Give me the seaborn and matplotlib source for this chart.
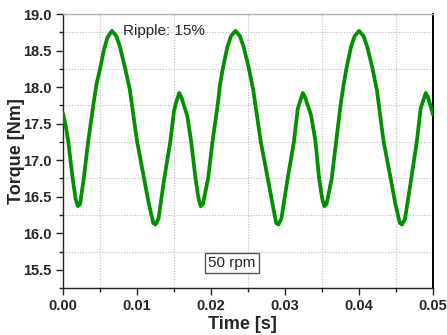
import matplotlib
matplotlib.use("Agg")
import matplotlib.pyplot as plt
from matplotlib.ticker import MultipleLocator, FormatStrFormatter
import seaborn as sns
import pandas as pd

# ---- data ----
time_s = [
    0.0000, 0.0004, 0.0007, 0.0013, 0.0017, 0.0020, 0.0023, 0.0028, 0.0034, 0.0041,
    0.0045, 0.0050, 0.0055, 0.0060, 0.0066, 0.0072, 0.0077, 0.0084, 0.0090, 0.0100,
    0.0110, 0.0116, 0.0122, 0.0125, 0.0129, 0.0136, 0.0145, 0.0150, 0.0153, 0.0157,
    0.0160, 0.0163, 0.0168, 0.0173, 0.0179, 0.0183, 0.0186, 0.0189, 0.0196, 0.0202,
    0.0209, 0.0212, 0.0216, 0.0222, 0.0227, 0.0233, 0.0239, 0.0244, 0.0251, 0.0257,
    0.0267, 0.0277, 0.0283, 0.0288, 0.0291, 0.0295, 0.0303, 0.0312, 0.0317, 0.0320,
    0.0324, 0.0327, 0.0330, 0.0335, 0.0341, 0.0346, 0.0350, 0.0353, 0.0356, 0.0363,
    0.0369, 0.0375, 0.0379, 0.0383, 0.0389, 0.0394, 0.0400, 0.0406, 0.0411, 0.0418,
    0.0424, 0.0433, 0.0443, 0.0449, 0.0455, 0.0458, 0.0462, 0.0470, 0.0478, 0.0483,
    0.0486, 0.0490, 0.0493, 0.0496, 0.0500,
]
torque_nm = [
    17.64, 17.45, 17.26, 16.75, 16.47, 16.37, 16.40, 16.75, 17.26, 17.76,
    18.03, 18.25, 18.50, 18.68, 18.77, 18.70, 18.55, 18.25, 17.98, 17.26,
    16.72, 16.40, 16.14, 16.12, 16.20, 16.70, 17.26, 17.68, 17.80, 17.92,
    17.86, 17.76, 17.60, 17.26, 16.75, 16.48, 16.37, 16.40, 16.75, 17.26,
    17.76, 18.03, 18.26, 18.55, 18.70, 18.77, 18.70, 18.55, 18.26, 17.96,
    17.26, 16.73, 16.40, 16.14, 16.12, 16.20, 16.72, 17.26, 17.70, 17.80,
    17.92, 17.86, 17.77, 17.62, 17.26, 16.75, 16.48, 16.37, 16.40, 16.75,
    17.26, 17.76, 18.03, 18.26, 18.55, 18.70, 18.77, 18.70, 18.55, 18.26,
    17.96, 17.26, 16.73, 16.40, 16.14, 16.12, 16.20, 16.72, 17.26, 17.70,
    17.80, 17.92, 17.86, 17.76, 17.62,
]
x_label = "Time [s]"
y_label = "Torque [Nm]"
annotation = "Ripple: 15%"
speed_label = "50 rpm"

sns.set_style("ticks")
plt.rcParams["font.family"] = ["Liberation Sans", "DejaVu Sans"]

df = pd.DataFrame({"t": time_s, "T": torque_nm})

fig = plt.figure(figsize=(4.47, 3.35), dpi=100)
ax = fig.add_axes([0.141, 0.140, 0.828, 0.818])

sns.lineplot(data=df, x="t", y="T", ax=ax, color="#009000", linewidth=2.7,
             estimator=None, sort=False, zorder=3)

ax.set_xlim(0, 0.05)
ax.set_ylim(15.25, 19.0)
ax.xaxis.set_major_locator(MultipleLocator(0.01))
ax.xaxis.set_minor_locator(MultipleLocator(0.005))
ax.yaxis.set_major_locator(MultipleLocator(0.5))
ax.yaxis.set_minor_locator(MultipleLocator(0.25))
ax.xaxis.set_major_formatter(FormatStrFormatter("%.2f"))
ax.yaxis.set_major_formatter(FormatStrFormatter("%.1f"))

ax.grid(False)
ax.grid(which="minor", color="#c4c4c4", linestyle=(0, (1, 1.2)), linewidth=0.9)

ax.tick_params(which="major", direction="out", length=5, width=1, color="#222222",
               labelsize=10.5, pad=3)
ax.tick_params(which="minor", direction="out", length=3, width=1, color="#222222")
ax.tick_params(axis="both", top=False, right=False, which="both")
for lab in ax.get_xticklabels() + ax.get_yticklabels():
    lab.set_fontweight("bold")

for side in ["left", "bottom", "right"]:
    ax.spines[side].set_visible(True)
    ax.spines[side].set_color("#222222")
    ax.spines[side].set_linewidth(1.0)
ax.spines["right"].set_color("black")
ax.spines["right"].set_linewidth(1.4)
ax.spines["top"].set_visible(True)
ax.spines["top"].set_color("#b0b0b0")
ax.spines["top"].set_linewidth(1.0)

ax.set_xlabel(x_label, fontsize=13, fontweight="bold")
ax.set_ylabel(y_label, fontsize=13, fontweight="bold")
ax.xaxis.set_label_coords(0.485, -0.103)
ax.yaxis.set_label_coords(-0.103, 0.5)

ax.text(0.0081, 18.775, annotation, fontsize=11, ha="left", va="center", zorder=4)
ax.text(0.0228, 15.595, speed_label, fontsize=11, ha="center", va="center",
        bbox=dict(boxstyle="square,pad=0.2", facecolor="white",
                  edgecolor="#555555", linewidth=1.0), zorder=4)

fig.savefig("out.png", dpi=100)
